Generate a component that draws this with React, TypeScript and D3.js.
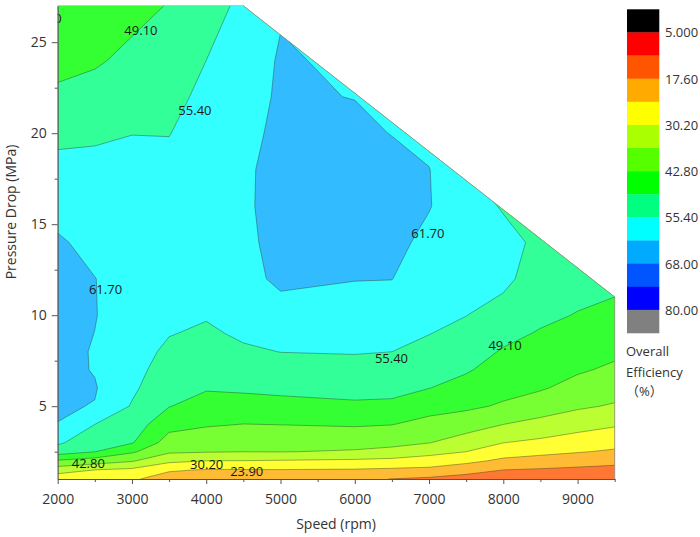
import { useEffect, useRef } from 'react';
import * as d3 from 'd3';

// grid: columns are speeds (rpm), rows are pressure drop (MPa)
const speeds = [2000, 2500, 3000, 3500, 4000, 4500, 5000, 6000, 6500, 7000, 7500, 8000, 8500, 9000, 9500];
const pressures = [1, 1.5, 2, 2.5, 3, 4, 5, 6, 7, 8, 9, 10, 12, 14, 16, 18, 20, 22, 24, 27];
const efficiency = [
  [26, 25, 24.6, 21.5, 20, 19.5, 19, 18.5, 17.5, 16.5, 15, 14, 13.5, 13, 12.5],
  [33.2, 30.2, 28.9, 24.5, 23.6, 23.6, 23.7, 23.4, 22.9, 22.4, 20.1, 17.6, 17.0, 16.4, 15.8],
  [42.1, 39.9, 37.1, 31.7, 30.2, 30.1, 29.8, 29.15, 28.6, 27.5, 25.5, 22.7, 21.5, 20.3, 19.35],
  [52.2, 49.2, 43.7, 37.4, 36.9, 36.55, 36.7, 35.9, 34.7, 32.2, 30.2, 26.7, 25.5, 24.3, 23.1],
  [56.4, 51.3, 49.6, 40.0, 39.1, 38.6, 38.8, 38.7, 38.2, 36.7, 33.5, 30.3, 28.9, 27.2, 25.9],
  [61.6, 55.4, 52.25, 45.0, 43.4, 42.7, 42.9, 43.4, 42.95, 40.9, 39.4, 36.5, 34.6, 32.6, 30.9],
  [62.3, 61.48, 54.9, 49.3, 46.7, 46.8, 47.2, 48.1, 47.9, 45.1, 43.9, 42.1, 39.6, 37.4, 35.9],
  [63, 62.1, 56.5, 50.9, 49.6, 50.0, 50.5, 51.1, 50.8, 49.2, 47.0, 44.6, 43.4, 40.8, 39.0],
  [63.3, 61.4, 57.5, 52.5, 51.2, 52.3, 53.0, 53.5, 53.1, 51.4, 49.7, 46.6, 45.1, 43.5, 41.8],
  [63.5, 61.3, 58.2, 54.1, 52.8, 54.5, 55.5, 55.75, 55.42, 53.6, 51.6, 48.6, 46.9, 45.3, 43.9],
  [63.5, 61.65, 58.7, 55.7, 54.4, 56.4, 57.3, 57.3, 57.0, 55.55, 53.6, 50.7, 48.6, 47.1, 45.6],
  [63.5, 61.9, 59.0, 56.8, 55.9, 57.8, 59.2, 58.8, 58.5, 56.5, 55.5, 52.85, 50.4, 48.8, 47.4],
  [63, 61.8, 59.3, 58.5, 58.2, 59.6, 63.0, 61.9, 61.8, 58.3, 57.5, 57.0, 52, 51.5, 50.8],
  [62.4, 60.1, 59.2, 59.3, 59.8, 60.7, 63.1, 63, 63, 60.5, 58.5, 57.5, 54, 52, 51],
  [59.7, 58.4, 58.5, 58.8, 60.5, 61.3, 62.6, 63.3, 63.2, 61.95, 58.5, 54.8, 52, 50, 49],
  [57.1, 56.7, 57.2, 57.3, 60, 61.5, 62.1, 63, 62.8, 61.9, 55.6, 52, 49, 47, 46],
  [54.0, 54.7, 55.3, 55.2, 58.7, 61.2, 62.1, 62.5, 61.6, 59.5, 52, 49, 46, 44, 43],
  [50.2, 51.3, 52.9, 53.2, 57.2, 60.5, 62.1, 61.62, 57, 55, 49, 46, 43, 41, 40],
  [47.4, 48.4, 50.5, 51.5, 55.4, 59.5, 62.1, 61, 55, 52, 46, 43, 40, 38, 37],
  [44, 45.5, 47.3, 49.4, 52.5, 57, 61.3, 58, 50, 48, 43, 40, 37, 35, 34],
];

// measured region (the upper right corner has no data)
const boundarySpeed = [2000, 9500, 9500, 4500, 2000];
const boundaryPressure = [1, 1, 11, 27, 27];

const levels = [11.3, 17.6, 23.9, 30.2, 36.5, 42.8, 49.1, 55.4, 61.7, 68.0];
const levelColors = ['#ff5500', '#ffaa00', '#ffff00', '#aaff00', '#55ff00', '#00ff00', '#00ff80', '#00ffff', '#00aaff', '#0055ff'];

const legendColors = ['#000000', '#ff0000', '#ff5500', '#ffaa00', '#ffff00', '#aaff00', '#55ff00', '#00ff00', '#00ff80', '#00ffff', '#00aaff', '#0055ff', '#0000ff', '#808080'];
const legendLevels = [5, 11.3, 17.6, 23.9, 30.2, 36.5, 42.8, 49.1, 55.4, 61.7, 68, 74.3, 80];

const labelLevel = [49.1, 55.4, 61.7, 61.7, 55.4, 49.1, 42.8, 30.2, 23.9, 42.8];
const labelSpeed = [3121, 3848, 6985, 2644, 6494, 8023, 2412, 4006, 4545, 1829];
const labelPressure = [25.68, 21.28, 14.52, 11.43, 7.65, 8.37, 1.87, 1.83, 1.46, 26.33];

const font = "'Open Sans', 'Noto Sans CJK SC', sans-serif";
const fmt = d3.format('.4r');

// grid index -> data value (d3.contours puts sample i at i + 0.5)
function idxToVal(arr: number[], c: number) {
  const f = Math.max(0, Math.min(arr.length - 1, c - 0.5));
  const i = Math.min(arr.length - 2, Math.floor(f));
  const t = f - i;
  return arr[i] + (arr[i + 1] - arr[i]) * t;
}

export default function App() {
  const axesRef = useRef<SVGGElement>(null);

  const x = d3.scaleLinear().domain([2000, 9500]).range([57.7, 614.7]);
  const y = d3.scaleLinear().domain([1, 27]).range([479, 5.8]);

  // replicate the edges so polygon borders fall outside the clip
  const padS = [speeds[0] - 200, ...speeds, speeds[speeds.length - 1] + 200];
  const padP = [pressures[0] - 0.5, ...pressures, pressures[pressures.length - 1] + 1];
  const padRows = [efficiency[0], ...efficiency, efficiency[efficiency.length - 1]].map((r) => [r[0], ...r, r[r.length - 1]]);
  const n = padS.length;
  const m = padP.length;
  const contours = d3.contours().size([n, m]).thresholds(levels)(padRows.flat());

  const pathFor = (mp: any) =>
    mp.coordinates
      .map((poly: number[][][]) =>
        poly
          .map((ring) => 'M' + ring.map((p) => `${x(idxToVal(padS, p[0])).toFixed(2)},${y(idxToVal(padP, p[1])).toFixed(2)}`).join('L') + 'Z')
          .join('')
      )
      .join('');

  const clipPts = boundarySpeed.map((s, i) => `${x(s)},${y(boundaryPressure[i])}`).join(' ');
  const edgePath = d3.line()([1, 2, 3].map((i) => [x(boundarySpeed[i]), y(boundaryPressure[i])]) as [number, number][]);

  const legendY = d3.scaleBand<number>().domain(d3.range(legendColors.length)).range([9.3, 333]);
  const bandH = legendY.bandwidth();

  useEffect(() => {
    const g = d3.select(axesRef.current);
    g.selectAll('*').remove();
    const style = (sel: any) => {
      sel.selectAll('path').attr('stroke', '#555');
      sel.selectAll('line').attr('stroke', '#555');
      sel.selectAll('text').attr('fill', '#333').style('font-family', font).style('font-size', '14px');
    };
    g.append('g')
      .attr('transform', 'translate(0,479)')
      .call(d3.axisBottom(x).tickValues(d3.range(2000, 9001, 1000)).tickSize(5).tickSizeOuter(0).tickPadding(10).tickFormat(d3.format('d')))
      .call(style);
    g.append('g')
      .attr('transform', 'translate(0,479)')
      .call(d3.axisBottom(x).tickValues(d3.range(2500, 9501, 1000)).tickSize(3).tickFormat(() => ''))
      .call((s: any) => s.select('.domain').remove())
      .call(style);
    g.append('g')
      .attr('transform', 'translate(57.7,0)')
      .call(d3.axisLeft(y).tickValues([5, 10, 15, 20, 25]).tickSize(6).tickSizeOuter(0).tickPadding(5))
      .call(style);
    g.append('g')
      .attr('transform', 'translate(57.7,0)')
      .call(d3.axisLeft(y).tickValues([2.5, 7.5, 12.5, 17.5, 22.5]).tickSize(3).tickFormat(() => ''))
      .call((s: any) => s.select('.domain').remove())
      .call(style);
  }, []);

  return (
    <svg width={700} height={537} style={{ position: 'absolute', left: 0, top: 0, background: '#fff' }}>
      <defs>
        <clipPath id="domainClip">
          <polygon points={clipPts} />
        </clipPath>
        <clipPath id="plotClip">
          <rect x={x(2000)} y={y(27)} width={x(9500) - x(2000)} height={y(1) - y(27)} />
        </clipPath>
      </defs>
      <g clipPath="url(#domainClip)">
        {contours.map((c, i) => (
          <path
            key={i}
            d={pathFor(c)}
            fill={d3.interpolateRgb('#ffffff', levelColors[i])(0.8)}
            fillRule="evenodd"
            stroke="#2a3a2a"
            strokeOpacity={0.75}
            strokeWidth={0.55}
          />
        ))}
      </g>
      <path d={edgePath ?? ''} fill="none" stroke="#888" strokeWidth={0.8} />
      <g clipPath="url(#plotClip)">
        {labelLevel.map((v, i) => (
          <text
            key={i}
            x={x(labelSpeed[i])}
            y={y(labelPressure[i])}
            textAnchor="middle"
            dominantBaseline="central"
            fontFamily={font}
            fontSize={13}
            fill="#1a1a1a"
          >
            {fmt(v)}
          </text>
        ))}
      </g>
      <g ref={axesRef} />
      <text x={336} y={523} textAnchor="middle" dominantBaseline="central" fontFamily={font} fontSize={14} fill="#333">
        Speed (rpm)
      </text>
      <text
        transform="translate(10,212) rotate(-90)"
        textAnchor="middle"
        dominantBaseline="central"
        fontFamily={font}
        fontSize={14}
        fill="#333"
      >
        Pressure Drop (MPa)
      </text>
      <g>
        {legendColors.map((c, i) => (
          <rect key={i} x={627} y={legendY(i)} width={32.3} height={bandH + 0.3} fill={c} />
        ))}
        {legendLevels.map((v, i) =>
          i % 2 === 0 ? (
            <text
              key={i}
              x={665}
              y={legendY(i + 1) ?? 0}
              dominantBaseline="central"
              fontFamily={font}
              fontSize={13}
              fill="#333"
            >
              {fmt(v)}
            </text>
          ) : null
        )}
        <text x={626} y={351} dominantBaseline="central" fontFamily={font} fontSize={13} fill="#333">Overall</text>
        <text x={626} y={372} dominantBaseline="central" fontFamily={font} fontSize={13} fill="#333">Efficiency</text>
        <text x={626} y={391} dominantBaseline="central" fontFamily={font} fontSize={13} fill="#333">（%）</text>
      </g>
    </svg>
  );
}
